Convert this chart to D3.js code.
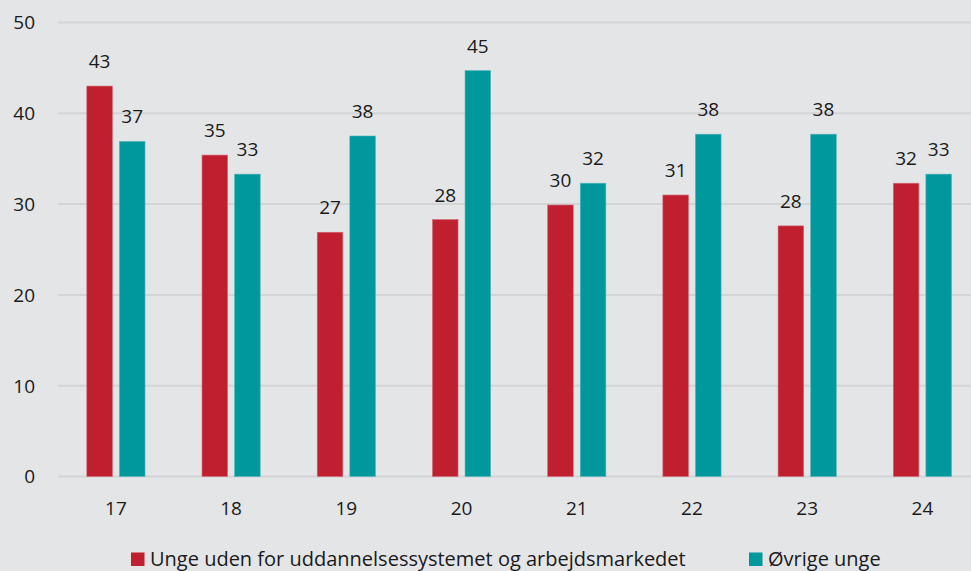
<!DOCTYPE html>
<html><head><meta charset="utf-8">
<script src="https://cdn.jsdelivr.net/npm/d3@7"></script>
<style>
html,body{margin:0;padding:0;background:#e4e5e7;}
svg{display:block;font-family:"Open Sans","Noto Sans",sans-serif;}
</style></head>
<body><svg id="c" width="971" height="571"></svg>
<script>
const categories = ["17","18","19","20","21","22","23","24"];
const seriesNames = ["Unge uden for uddannelsessystemet og arbejdsmarkedet","Øvrige unge"];
const redValues = [43.0,35.4,26.9,28.3,29.9,31.0,27.6,32.3];
const tealValues = [36.9,33.3,37.5,44.7,32.3,37.7,37.7,33.3];
const yTicks = [0,10,20,30,40,50];
const colors = ["#c01f30","#00979d"];

(function(){
const svg = d3.select("#c");
const pL = 58.3, pR = 980, gridR = 971, pT = 22.5, pB = 476.5;
const x = d3.scaleBand().domain(categories).range([pL, pR]);
const y = d3.scaleLinear().domain([0,50]).range([pB, pT]);
const fs = 19;

svg.append("g").selectAll("line").data(yTicks).join("line")
  .attr("x1", 58).attr("x2", gridR)
  .attr("y1", d=>y(d)).attr("y2", d=>y(d))
  .attr("stroke","#d3d4d6").attr("stroke-width",2);

svg.append("g").selectAll("text").data(yTicks).join("text")
  .attr("x", 35).attr("y", d=>y(d)).attr("dy","0.36em")
  .attr("text-anchor","end").attr("font-size",fs).attr("fill","#1a1a1a")
  .text(d=>d);

const barW = 25.6, gap = 7;
const data = categories.map((c,i)=>({c, vals:[redValues[i], tealValues[i]]}));
const g = svg.append("g");
data.forEach(d=>{
  const cx = x(d.c) + x.bandwidth()/2;
  d.vals.forEach((v,k)=>{
    const bx = k===0 ? cx - gap/2 - barW : cx + gap/2;
    g.append("rect").attr("x", bx).attr("y", y(v))
      .attr("width", barW).attr("height", y(0)-y(v))
      .attr("fill", colors[k]).attr("stroke", k===0?"#d46a75":"#4fb6ba").attr("stroke-width",0.6);
    g.append("text").attr("x", bx + barW/2).attr("y", y(v) - 18)
      .attr("text-anchor","middle").attr("font-size",fs).attr("fill","#1a1a1a")
      .text(Math.round(v));
  });
});

svg.append("g").selectAll("text").data(categories).join("text")
  .attr("x", d=>x(d)+x.bandwidth()/2).attr("y", 515)
  .attr("text-anchor","middle").attr("font-size",fs).attr("fill","#1a1a1a")
  .text(d=>d);

const leg = [{x:131, name:seriesNames[0], c:colors[0]},{x:749, name:seriesNames[1], c:colors[1]}];
leg.forEach(l=>{
  svg.append("rect").attr("x", l.x).attr("y", 552.5).attr("width",13.5).attr("height",13.5).attr("fill", l.c);
  svg.append("text").attr("x", l.x+19).attr("y", 566).attr("font-size",20).attr("fill","#1a1a1a").text(l.name);
});
})();
</script></body></html>
